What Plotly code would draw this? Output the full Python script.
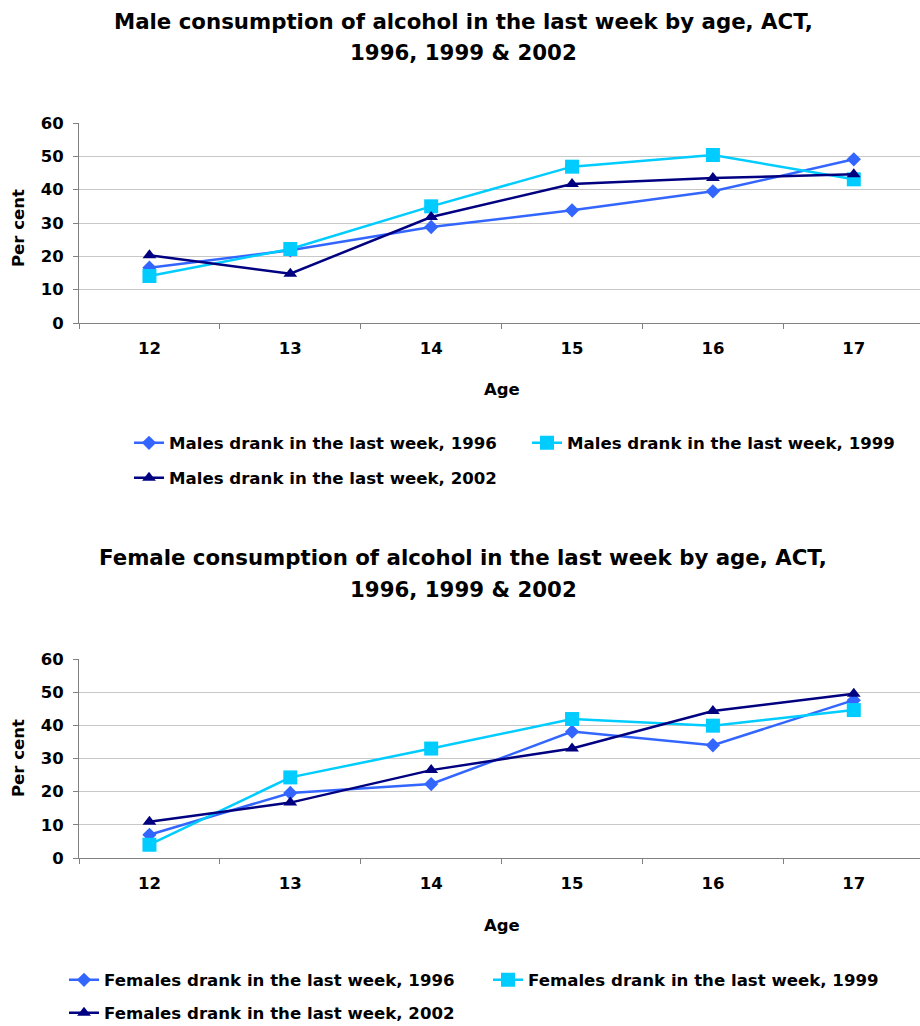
import plotly.graph_objects as go

ages = ["12", "13", "14", "15", "16", "17"]

male_1996 = [16.6, 21.8, 28.8, 33.8, 39.5, 49.1]
male_1999 = [14.1, 22.2, 35.0, 46.9, 50.4, 43.1]
male_2002 = [20.3, 14.8, 31.8, 41.7, 43.5, 44.6]

female_1996 = [7.0, 19.6, 22.3, 38.1, 34.0, 47.6]
female_1999 = [4.0, 24.3, 33.0, 41.9, 39.9, 44.6]
female_2002 = [10.9, 16.7, 26.5, 33.0, 44.3, 49.5]

male_names = ["Males drank in the last week, 1996",
              "Males drank in the last week, 1999",
              "Males drank in the last week, 2002"]
female_names = ["Females drank in the last week, 1996",
                "Females drank in the last week, 1999",
                "Females drank in the last week, 2002"]

colors = ["#3366FF", "#00CCFF", "#000080"]
symbols = ["diamond", "square", "triangle-up"]
sizes = [11, 14, 12]

W, H = 920, 1026
FONT = "DejaVu Sans, Liberation Sans, Arial, sans-serif"

fig = go.Figure()

def px_y(y):
    return 1 - y / H

def px_x(x):
    return x / W

male_series = [male_1996, male_1999, male_2002]
female_series = [female_1996, female_1999, female_2002]

legend_ids = ["legend", "legend2", "legend3", "legend4", "legend5", "legend6"]

for i, (vals, name) in enumerate(zip(male_series, male_names)):
    fig.add_trace(go.Scatter(
        x=ages, y=vals, name=name, mode="lines+markers",
        line=dict(color=colors[i], width=2.5),
        marker=dict(symbol=symbols[i], size=sizes[i], color=colors[i]),
        xaxis="x", yaxis="y", legend=legend_ids[i]))

for i, (vals, name) in enumerate(zip(female_series, female_names)):
    fig.add_trace(go.Scatter(
        x=ages, y=vals, name=name, mode="lines+markers",
        line=dict(color=colors[i], width=2.5),
        marker=dict(symbol=symbols[i], size=sizes[i], color=colors[i]),
        xaxis="x2", yaxis="y2", legend=legend_ids[3 + i]))

axis_color = "#808080"
grid_color = "#C8C8C8"
tickfont = dict(family=FONT, size=16.5, color="black", weight="bold")

xcommon = dict(type="category", categoryorder="array", categoryarray=ages,
               range=[-0.5, 5.47], domain=[px_x(79), 1],
               showline=True, linecolor=axis_color, linewidth=1,
               ticks="outside", tickson="boundaries", ticklen=5, tickcolor=axis_color,
               tickfont=tickfont, ticklabelstandoff=10, showgrid=False, zeroline=False)
ycommon = dict(range=[0, 60], dtick=10, tick0=0,
               showline=True, linecolor=axis_color, linewidth=1,
               ticks="outside", ticklen=5, tickcolor=axis_color,
               tickfont=tickfont, ticklabelstandoff=6,
               showgrid=True, gridcolor=grid_color, gridwidth=1, zeroline=False)

fig.update_layout(
    xaxis=dict(**xcommon, anchor="y"),
    yaxis=dict(**ycommon, domain=[px_y(323), px_y(123)], anchor="x"),
    xaxis2=dict(**xcommon, anchor="y2"),
    yaxis2=dict(**ycommon, domain=[px_y(858), px_y(659)], anchor="x2"),
)

legend_pos = [(169, 443), (567, 443), (169, 478), (104, 980), (528, 980), (104, 1013)]
legfont = dict(family=FONT, size=16.6, color="black", weight="bold")
for lid, (lx, ly) in zip(legend_ids, legend_pos):
    fig.update_layout({lid: dict(x=px_x(lx - 40), y=px_y(ly), xref="container", yref="container",
                                 xanchor="left", yanchor="middle",
                                 orientation="h", font=legfont, bgcolor="rgba(0,0,0,0)",
                                 borderwidth=0)})

ann = []
titlefont = dict(family=FONT, size=21.3, color="black", weight="bold")
for text, y in [("Male consumption of alcohol in the last week by age, ACT,", 22),
                ("1996, 1999 & 2002", 52),
                ("Female consumption of alcohol in the last week by age, ACT,", 557),
                ("1996, 1999 & 2002", 589)]:
    ann.append(dict(text=text, x=px_x(463), y=px_y(y), xref="paper", yref="paper",
                    xanchor="center", yanchor="middle", showarrow=False, font=titlefont))

labfont = dict(family=FONT, size=16.5, color="black", weight="bold")
for y in [389, 925]:
    ann.append(dict(text="Age", x=px_x(502), y=px_y(y), xref="paper", yref="paper",
                    xanchor="center", yanchor="middle", showarrow=False, font=labfont))
for y in [228, 758]:
    ann.append(dict(text="Per cent", x=px_x(18), y=px_y(y), xref="paper", yref="paper",
                    xanchor="center", yanchor="middle", showarrow=False, font=labfont,
                    textangle=-90))

fig.update_layout(
    width=W, height=H, margin=dict(l=0, r=0, t=0, b=0, autoexpand=False),
    paper_bgcolor="white", plot_bgcolor="white",
    annotations=ann, showlegend=True,
)

fig.write_html("out.html")
